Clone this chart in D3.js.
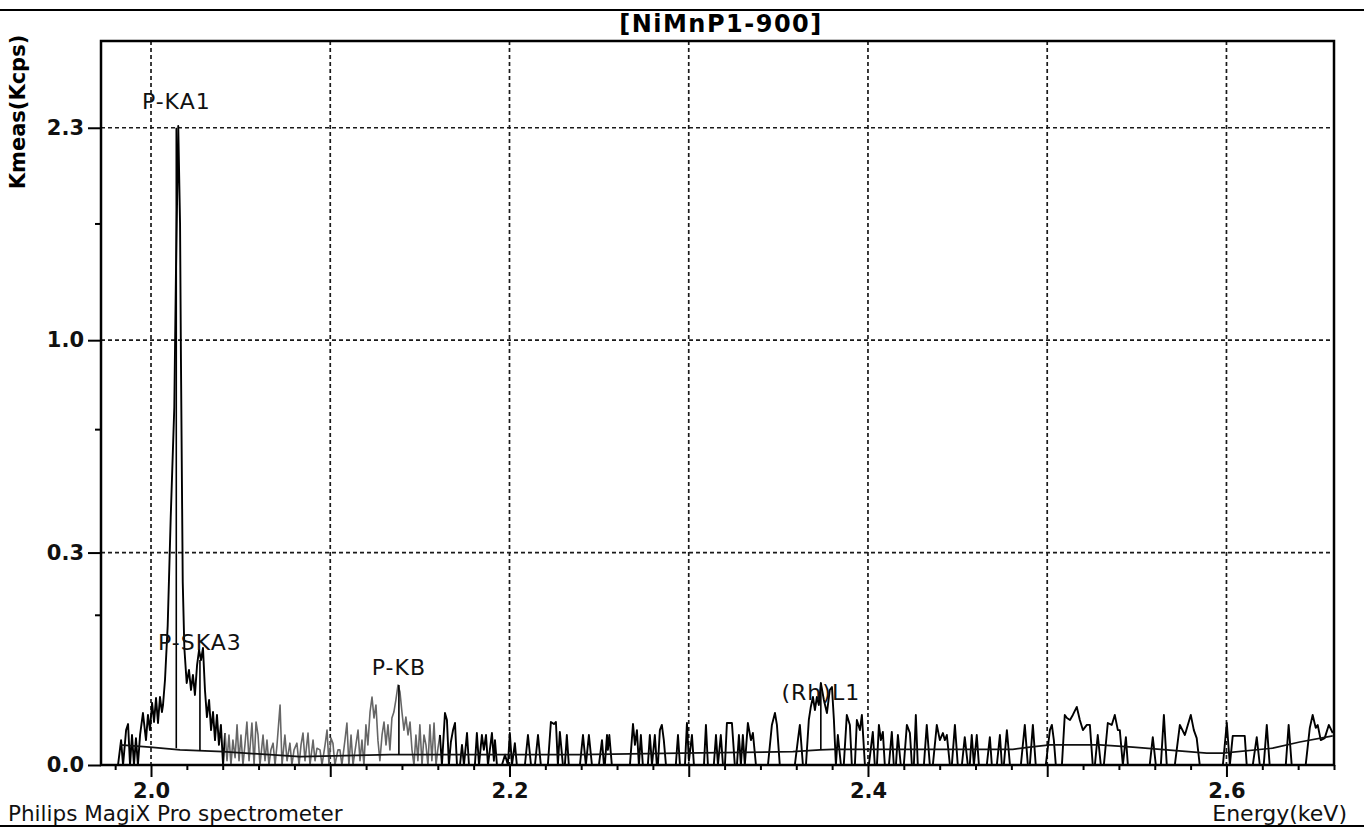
<!DOCTYPE html>
<html><head><meta charset="utf-8">
<script src="https://cdn.jsdelivr.net/npm/d3@7"></script>
<style>body{margin:0;background:#fff} svg{display:block;background:#fff}</style>
</head><body>
<svg id="c" width="1364" height="828"></svg>
<script>
// ---------------- data ----------------
const chartTitle = "[NiMnP1-900]";
const yAxisTitle = "Kmeas(Kcps)";
const xAxisTitle = "Energy(keV)";
const footerText = "Philips MagiX Pro spectrometer";

const xMajorTicks = [2.0, 2.1, 2.2, 2.3, 2.4, 2.5, 2.6];
const xTickLabels = ["2.0", "", "2.2", "", "2.4", "", "2.6"];
const xMinorTicks = [1.98, 2.02, 2.04, 2.06, 2.08, 2.12, 2.14, 2.16, 2.18, 2.22, 2.24, 2.26, 2.28,
  2.32, 2.34, 2.36, 2.38, 2.42, 2.44, 2.46, 2.48, 2.52, 2.54, 2.56, 2.58, 2.62, 2.64, 2.66];
const yTickValues = [0, 0.2556, 1.0222, 2.3];
const yTickLabels = ["0.0", "0.3", "1.0", "2.3"];
const yMinorTicks = [0.1278, 0.6389, 1.6611];

// spectrum [energy keV, intensity kcps]
const spectrumLow = [[1.9816,0],[1.9833,0.0035],[1.9844,0],[1.9861,0.0069],[1.9872,0.0095],[1.9883,0],[1.9894,0.0051],[1.9905,0],[1.9916,0.0041],[1.9927,0],[1.9939,0.0051],[1.9955,0.0153],[1.9972,0.0035],[1.9983,0.0142],[1.9994,0.0069],[2.0006,0.0218],[2.0017,0.0105],[2.0028,0.0254],[2.0039,0.0100],[2.0050,0.0262],[2.0061,0.0159],[2.0067,0.0204],[2.0078,0.0409],[2.0093,0.1094],[2.0110,0.348],[2.0130,0.726],[2.0139,1.360],[2.0152,2.313],[2.0162,1.664],[2.0167,0.934],[2.0177,0.190],[2.0186,0.0775],[2.0199,0.0381],[2.0212,0.0511],[2.0223,0.0319],[2.0234,0.0459],[2.0245,0.0278],[2.0257,0.0566],[2.0268,0.0749],[2.0279,0.0624],[2.0290,0.0775],[2.0301,0.0319],[2.0312,0.0130],[2.0324,0.0239],[2.0335,0.0069],[2.0346,0.0159],[2.0357,0.0035],[2.0368,0.0142],[2.0379,0.0023],[2.0390,0.0091],[2.0402,0]];

const spectrumGrey = [[2.0413,0.0058],[2.0424,0.0001],[2.0435,0.0051],[2.0446,0],[2.0457,0.0035],[2.0469,0.0003],[2.0480,0.0091],[2.0491,0.0001],[2.0502,0.0051],[2.0513,0],[2.0524,0.0023],[2.0535,0.0105],[2.0547,0.0001],[2.0563,0.0100],[2.0575,0],[2.0586,0.0105],[2.0597,0.0051],[2.0608,0],[2.0625,0.0051],[2.0636,0.0001],[2.0647,0.0035],[2.0658,0],[2.0669,0.0013],[2.0681,0.0027],[2.0692,0],[2.0703,0.0023],[2.0720,0.0204],[2.0731,0],[2.0747,0.0051],[2.0759,0.0001],[2.0775,0.0027],[2.0786,0],[2.0798,0.0013],[2.0814,0.0027],[2.0826,0],[2.0837,0.0023],[2.0848,0.0058],[2.0859,0.0001],[2.0876,0.0058],[2.0887,0],[2.0904,0.0035],[2.0915,0.0001],[2.0926,0.0016],[2.0943,0.0013],[2.0954,0],[2.0971,0.0023],[2.0982,0.0069],[2.0993,0],[2.1004,0.0041],[2.1015,0.0027],[2.1026,0],[2.1043,0.0013],[2.1054,0.0013],[2.1065,0],[2.1082,0.0035],[2.1093,0.0100],[2.1104,0],
[2.1116,0.0051],[2.1127,0],[2.1143,0.0023],[2.1155,0.0069],[2.1166,0.0001],[2.1177,0.0035],[2.1188,0],[2.1199,0.0091],[2.1210,0.0023],[2.1222,0.0159],[2.1233,0.0262],[2.1244,0.0125],[2.1255,0.0204],[2.1266,0.0035],[2.1277,0.0001],[2.1289,0.0051],[2.1300,0.0105],[2.1311,0.0023],[2.1322,0.0091],[2.1333,0.0013],[2.1344,0.0125],[2.1355,0.0159],[2.1366,0.0239],[2.1378,0.0362],[2.1389,0.0302],[2.1400,0.0159],[2.1411,0.0069],[2.1422,0.0130],[2.1434,0.0051],[2.1445,0.0105],[2.1456,0.0013],[2.1467,0],[2.1478,0.0051],[2.1489,0.0001],[2.1500,0.0091],[2.1512,0],[2.1523,0.0051],[2.1534,0.0023],[2.1545,0],[2.1556,0.0091],[2.1567,0.0001],[2.1579,0.0100],[2.1590,0],[2.1601,0.0016],[2.1612,0.0051]];

const spectrumHigh = [[2.1623,0],[2.1640,0.0153],[2.1651,0.0115],[2.1662,0],[2.1673,0.0030],[2.1685,0.0069],[2.1696,0.0100],[2.1707,0],[2.1724,0],[2.1735,0.0023],[2.1746,0],[2.1763,0.0058],[2.1774,0],[2.1807,0],[2.1818,0.0058],[2.1830,0],[2.1846,0.0051],[2.1857,0.0013],[2.1869,0.0051],[2.1880,0],[2.1902,0.0058],[2.1913,0.0001],[2.1919,0.0035],[2.1930,0],[2.1958,0],[2.1975,0.0006],[2.1991,0],[2.2002,0.0058],[2.2014,0],[2.2030,0.0027],[2.2041,0],
[2.2086,0],[2.2103,0.0051],[2.2120,0],[2.2142,0],[2.2159,0.0051],[2.2175,0],[2.2214,0],[2.2231,0.0105],[2.2248,0.0095],[2.2259,0.0105],[2.2270,0],[2.2281,0.0062],[2.2298,0],[2.2309,0],[2.2320,0.0051],[2.2331,0],[2.2393,0],[2.2410,0.0051],[2.2426,0],[2.2443,0.0051],[2.2460,0],[2.2499,0],[2.2516,0.0035],[2.2527,0],[2.2532,0],[2.2544,0.0051],[2.2549,0.0013],[2.2557,0.0051],[2.2571,0],[2.2672,0],[2.2689,0.0095],[2.2700,0.0023],[2.2711,0.0069],[2.2722,0],[2.2733,0.0051],[2.2744,0],[2.2772,0],[2.2783,0.0051],[2.2795,0],[2.2811,0.0051],[2.2822,0],[2.2828,0],[2.2839,0.0069],[2.2850,0.0091],[2.2861,0.0035],[2.2873,0],[2.2928,0],[2.2940,0.0051],[2.2951,0],[2.2979,0],[2.2990,0.0100],[2.3001,0.0001],[2.3018,0.0051],[2.3029,0],[2.3085,0],[2.3096,0.0091],[2.3107,0],[2.3140,0],[2.3152,0.0051],[2.3163,0],[2.3179,0.0051],[2.3191,0],[2.3202,0],[2.3213,0.0100],[2.3241,0.0100],[2.3257,0],[2.3269,0],[2.3280,0.0051],[2.3291,0],[2.3302,0.0051],[2.3313,0],[2.3330,0.0100],[2.3347,0.0035],[2.3358,0.0058],[2.3375,0],[2.3442,0],[2.3464,0.0091],[2.3481,0.0153],[2.3492,0.0091],[2.3508,0],[2.3592,0],[2.3609,0.0035],[2.3620,0.0091],[2.3637,0],[2.3654,0],[2.3670,0.0115],[2.3681,0.0191],[2.3693,0.0262],[2.3704,0.0171],[2.3715,0.0262],[2.3726,0.0204],[2.3737,0.0381],[2.3754,0.0239],[2.3771,0.0153],[2.3787,0.0319],[2.3799,0.0345],[2.3810,0.0115],[2.3821,0],[2.3832,0.0051],[2.3849,0],
[2.3865,0],[2.3882,0.0142],[2.3899,0.0091],[2.3910,0],[2.3927,0],[2.3938,0.0115],[2.3955,0.0069],[2.3966,0.0142],[2.3983,0],[2.4005,0],[2.4027,0.0062],[2.4038,0],[2.4050,0],[2.4061,0.0091],[2.4072,0.0035],[2.4083,0.0062],[2.4094,0],[2.4117,0],[2.4133,0.0062],[2.4144,0],[2.4156,0],[2.4167,0.0051],[2.4183,0],[2.4200,0],[2.4217,0.0091],[2.4234,0.0058],[2.4245,0],[2.4256,0],[2.4267,0.0142],[2.4278,0],[2.4312,0],[2.4328,0.0091],[2.4345,0],[2.4362,0],[2.4384,0.0091],[2.4401,0.0035],[2.4418,0.0058],[2.4429,0.0035],[2.4440,0.0051],[2.4457,0],[2.4468,0],[2.4485,0.0091],[2.4501,0],[2.4524,0],[2.4540,0.0044],[2.4557,0],[2.4568,0],[2.4579,0.0051],[2.4591,0],[2.4607,0.0051],[2.4619,0],[2.4663,0],[2.4680,0.0044],[2.4691,0],[2.4719,0],[2.4736,0.0051],[2.4747,0],[2.4758,0],[2.4775,0.0069],[2.4792,0],[2.4853,0],[2.4875,0.0091],[2.4892,0],[2.4903,0],[2.4920,0.0091],[2.4936,0],[2.4992,0],[2.5015,0.0069],[2.5026,0.0091],[2.5037,0.0035],[2.5048,0],[2.5082,0],[2.5098,0.0142],[2.5110,0.0125],[2.5127,0.0115],[2.5143,0.0142],[2.5165,0.0191],[2.5182,0.0115],[2.5199,0.0069],[2.5221,0.0091],[2.5238,0.0091],[2.5254,0],[2.5266,0],[2.5282,0.0051],[2.5299,0],[2.5316,0],[2.5338,0.0100],[2.5360,0.0091],[2.5377,0.0142],[2.5394,0.0069],[2.5405,0.0069],[2.5422,0],[2.5439,0.0044],[2.5450,0],[2.5572,0],[2.5589,0.0044],[2.5606,0],[2.5634,0],[2.5651,0.0142],[2.5667,0],[2.5712,0],[2.5740,0.0091],[2.5768,0.0051],[2.5801,0.0142],[2.5818,0.0069],[2.5834,0.0041],[2.5851,0],[2.5980,0],[2.6002,0.0100],[2.6019,0],[2.6035,0.0048],[2.6102,0.0048],[2.6113,0],[2.6147,0],[2.6169,0.0044],[2.6186,0],[2.6208,0],[2.6225,0.0091],[2.6241,0],[2.6331,0],[2.6347,0.0091],[2.6364,0],[2.6442,0],[2.6465,0.0078],[2.6481,0.0142],[2.6498,0.0078],[2.6509,0.0091],[2.6526,0.0035],[2.6548,0.0041],[2.6571,0.0091],[2.6593,0.0058]];

// fitted background [energy keV, kcps]
const background = [[1.9827,0.0023],[1.9994,0.0018],[2.0162,0.0013],[2.0402,0.0010],[2.0831,0.0004],[2.1333,0.0006],[2.2393,0.0006],[2.2951,0.0008],[2.3581,0.0010],[2.3732,0.0013],[2.3804,0.0014],[2.4808,0.0014],[2.4903,0.0018],[2.5015,0.0023],[2.5294,0.0023],[2.5478,0.0018],[2.5667,0.0013],[2.5890,0.0008],[2.5980,0.0008],[2.6258,0.0016],[2.6409,0.0030],[2.6593,0.0048]];

// identified lines
const peakNames = ["P-KA1", "P-SKA3", "P-KB", "(Rh)L1"];
const peakEnergies = [2.0141, 2.0273, 2.1383, 2.3737];
const peakTops = [2.30, 0.0624, 0.0362, 0.0381];
const peakBases = [0.0016, 0.0011, 0.0006, 0.0013];

// ---------------- layout / style ----------------
const W = 1364, H = 828;
const M = {left: 101, right: 1334, top: 41, bottom: 765};
const labelDy = [-19, -10, -10, 17];
const FONT = "'DejaVu Sans', Verdana, sans-serif";

const svg = d3.select("#c");
const x = d3.scaleLinear().domain([1.9721, 2.66]).range([M.left, M.right]);
const y = d3.scaleSqrt().domain([0, 2.969]).range([M.bottom, M.top]);

svg.append("rect").attr("width", W).attr("height", H).attr("fill", "#fff");

// grid
const grid = svg.append("g").attr("stroke", "#1a1a1a").attr("stroke-width", 1.7).attr("stroke-dasharray", "4,3");
grid.selectAll("line.v").data(xMajorTicks).join("line").attr("class", "v")
  .attr("x1", d => x(d)).attr("x2", d => x(d)).attr("y1", M.top).attr("y2", M.bottom);
grid.selectAll("line.h").data(yTickValues.filter(d => d > 0)).join("line").attr("class", "h")
  .attr("y1", d => y(d)).attr("y2", d => y(d)).attr("x1", M.left).attr("x2", M.right);

// spectrum
const line = d3.line().x(d => x(d[0])).y(d => y(d[1]));
svg.append("path").attr("d", line(spectrumLow.concat([spectrumGrey[0]])))
  .attr("fill", "none").attr("stroke", "#000").attr("stroke-width", 1.9).attr("stroke-linejoin", "round");
svg.append("path").attr("d", line(spectrumGrey))
  .attr("fill", "none").attr("stroke", "#666").attr("stroke-width", 1.6).attr("stroke-linejoin", "round");
svg.append("path").attr("d", line([spectrumGrey[spectrumGrey.length - 1]].concat(spectrumHigh)))
  .attr("fill", "none").attr("stroke", "#000").attr("stroke-width", 1.9).attr("stroke-linejoin", "round");

// background
svg.append("path").attr("d", line(background))
  .attr("fill", "none").attr("stroke", "#111").attr("stroke-width", 1.7);

// peak stems + labels
const stems = svg.append("g");
peakNames.forEach((name, i) => {
  stems.append("line")
    .attr("x1", x(peakEnergies[i])).attr("x2", x(peakEnergies[i]))
    .attr("y1", y(peakTops[i])).attr("y2", y(peakBases[i]))
    .attr("stroke", "#000").attr("stroke-width", 1.6);
  stems.append("text").attr("x", x(peakEnergies[i])).attr("y", y(peakTops[i]) + labelDy[i])
    .attr("text-anchor", "middle").attr("font-family", FONT).attr("font-size", 22)
    .attr("letter-spacing", 1).attr("fill", "#111").text(name);
});

// frame
svg.append("rect").attr("x", M.left).attr("y", M.top)
  .attr("width", M.right - M.left).attr("height", M.bottom - M.top)
  .attr("fill", "none").attr("stroke", "#000").attr("stroke-width", 2.5);

// x axis
const xAxis = svg.append("g").attr("transform", `translate(0,${M.bottom})`)
  .call(d3.axisBottom(x).tickValues(xMajorTicks).tickFormat((d, i) => xTickLabels[i]).tickSize(12).tickPadding(6));
const xMinor = svg.append("g").attr("transform", `translate(0,${M.bottom})`)
  .call(d3.axisBottom(x).tickValues(xMinorTicks).tickFormat("").tickSize(5));

// y axis
const yAxis = svg.append("g").attr("transform", `translate(${M.left},0)`)
  .call(d3.axisLeft(y).tickValues(yTickValues).tickFormat((d, i) => yTickLabels[i]).tickSize(13).tickPadding(4));
const yMinor = svg.append("g").attr("transform", `translate(${M.left},0)`)
  .call(d3.axisLeft(y).tickValues(yMinorTicks).tickFormat("").tickSize(6));

[xAxis, xMinor, yAxis, yMinor].forEach(g => {
  g.select(".domain").remove();
  g.selectAll("line").attr("stroke", "#000").attr("stroke-width", 2);
  g.selectAll("text").attr("font-family", FONT).attr("font-size", 21)
    .attr("font-weight", "bold").attr("fill", "#111");
});

// titles and frame lines
svg.append("line").attr("x1", 0).attr("x2", W).attr("y1", 10).attr("y2", 10)
  .attr("stroke", "#000").attr("stroke-width", 2);
svg.append("line").attr("x1", 0).attr("x2", W).attr("y1", 826).attr("y2", 826)
  .attr("stroke", "#000").attr("stroke-width", 2);

svg.append("text").attr("x", 721).attr("y", 32).attr("text-anchor", "middle")
  .attr("font-family", FONT).attr("font-size", 24).attr("font-weight", "bold")
  .attr("letter-spacing", 1.5).attr("fill", "#000").text(chartTitle);

svg.append("text").attr("transform", "translate(25,112) rotate(-90)")
  .attr("text-anchor", "middle").attr("font-family", FONT).attr("font-size", 21)
  .attr("font-weight", "bold").attr("fill", "#000").text(yAxisTitle);

svg.append("text").attr("x", 8).attr("y", 821)
  .attr("font-family", FONT).attr("font-size", 21.5).attr("fill", "#111").text(footerText);

svg.append("text").attr("x", 1347).attr("y", 821).attr("text-anchor", "end")
  .attr("font-family", FONT).attr("font-size", 22).attr("fill", "#111").text(xAxisTitle);
</script>
</body></html>
